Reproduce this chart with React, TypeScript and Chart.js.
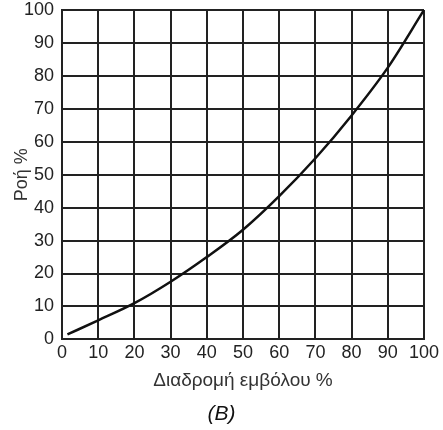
import React, { useEffect, useRef } from "react";
import { Chart, registerables } from "chart.js";

Chart.register(...registerables);

const strokeX: number[] = [1.5, 10, 20, 30, 40, 50, 60, 70, 80, 90, 100];
const flowY: number[] = [1.5, 5.8, 11, 17.5, 25, 33.3, 43.5, 55, 68, 82.5, 100];
const xTitle = "Διαδρομή εμβόλου %";
const yTitle = "Ροή %";
const captionText = "(B)";

export default function App() {
  const ref = useRef<HTMLCanvasElement | null>(null);
  useEffect(() => {
    document.body.style.margin = "0";
    const ctx = ref.current!;
    const font = "'Liberation Sans', Arial, sans-serif";
    const chart = new Chart(ctx, {
      type: "line",
      data: {
        datasets: [
          {
            data: strokeX.map((x, i) => ({ x, y: flowY[i] })),
            borderColor: "#111",
            borderWidth: 2.5,
            pointRadius: 0,
            tension: 0.4,
            cubicInterpolationMode: "monotone",
            fill: false,
          },
        ],
      },
      options: {
        animation: false,
        responsive: false,
        devicePixelRatio: 1,
        layout: { padding: { top: 0, right: 0, left: 0, bottom: 3 } },
        plugins: {
          legend: { display: false },
          tooltip: { enabled: false },
          title: {
            display: true,
            position: "bottom",
            text: captionText,
            color: "#111",
            font: { family: font, size: 21, style: "italic", weight: "normal" },
            padding: { top: 8, bottom: 0 },
          },
        },
        scales: {
          x: {
            type: "linear",
            min: 0,
            max: 100,
            ticks: {
              stepSize: 10,
              color: "#222",
              font: { family: font, size: 18 },
              padding: 3,
              maxRotation: 0,
            },
            grid: { color: "#222", lineWidth: 2, drawTicks: false },
            border: { color: "#222", width: 2 },
            title: {
              display: true,
              text: xTitle,
              color: "#333",
              font: { family: font, size: 19 },
              padding: { top: 2, bottom: 2 },
            },
            afterFit: (s: any) => {
              s.paddingRight = 19;
            },
          },
          y: {
            min: 0,
            max: 100,
            ticks: {
              stepSize: 10,
              color: "#222",
              font: { family: font, size: 18 },
              padding: 8,
            },
            grid: { color: "#222", lineWidth: 2, drawTicks: false },
            border: { color: "#222", width: 2 },
            title: {
              display: true,
              text: yTitle,
              color: "#333",
              font: { family: font, size: 18 },
              padding: { top: 11, bottom: 0 },
            },
            afterFit: (s: any) => {
              s.width = 62;
              s.paddingTop = 10;
              s.paddingBottom = 0;
            },
          },
        },
      },
    });
    return () => chart.destroy();
  }, []);
  return (
    <div style={{ width: 443, height: 430 }}>
      <canvas ref={ref} width={443} height={430} style={{ display: "block" }} />
    </div>
  );
}
